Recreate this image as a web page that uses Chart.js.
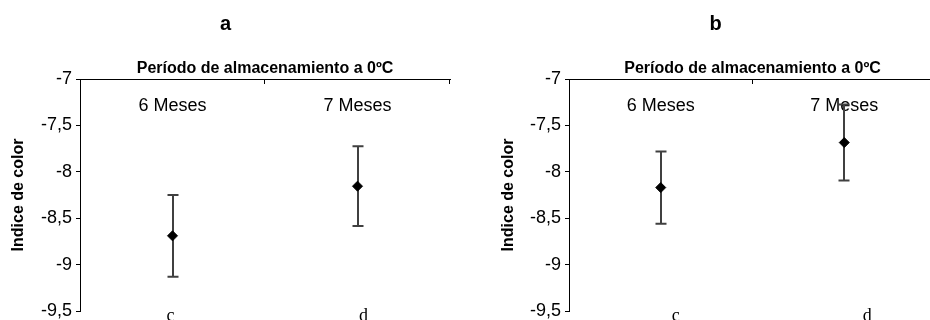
<!DOCTYPE html>
<html>
<head>
<meta charset="utf-8">
<script src="https://cdn.jsdelivr.net/npm/chart.js@4"></script>
<style>
  html, body { margin: 0; padding: 0; background: #fff; overflow: hidden; }
  .panel { position: absolute; top: 0; height: 320px; }
  #panelA { left: 0; width: 456px; }
  #panelB { left: 490px; width: 452px; }
</style>
</head>
<body>
<div class="panel" id="panelA"><canvas id="chartA"></canvas></div>
<div class="panel" id="panelB"><canvas id="chartB"></canvas></div>
<script>
// data
const categories = ["6 Meses", "7 Meses"];
const groupLetters = ["c", "d"];
const yTicks = [-7, -7.5, -8, -8.5, -9, -9.5];
const meansA = [-8.69, -8.155];
const errorsA = [0.44, 0.43];
const meansB = [-8.17, -7.685];
const errorsB = [0.39, 0.41];

Chart.defaults.font.family = "'Liberation Sans', Arial, sans-serif";
Chart.defaults.color = '#000';

// error bars, inner top-axis ticks, category labels and group letters
const panelExtras = {
    id: 'panelExtras',
    beforeDatasetsDraw(chart, args, opts) {
        const ctx = chart.ctx;
        const area = chart.chartArea;
        const x = chart.scales.x;
        const y = chart.scales.y;
        const means = chart.data.datasets[0].data;

        ctx.save();
        ctx.font = "18px 'Liberation Sans', Arial, sans-serif";
        ctx.fillStyle = '#000';
        ctx.textAlign = 'center';
        ctx.textBaseline = 'middle';
        categories.forEach((c, i) => {
            ctx.fillText(c, x.getPixelForValue(i), area.top + 27);
        });

        ctx.strokeStyle = '#000';
        ctx.lineWidth = 1;
        for (let i = 1; i <= categories.length; i++) {
            let bx = i < categories.length
                ? (x.getPixelForValue(i - 1) + x.getPixelForValue(i)) / 2
                : area.right;
            bx = Math.round(bx) - 0.5;
            ctx.beginPath();
            ctx.moveTo(bx, area.top);
            ctx.lineTo(bx, area.top + 5);
            ctx.stroke();
        }

        ctx.strokeStyle = '#404040';
        ctx.lineWidth = 2;
        means.forEach((m, i) => {
            const px = Math.round(x.getPixelForValue(i));
            const top = y.getPixelForValue(m + opts.errors[i]);
            const bot = y.getPixelForValue(m - opts.errors[i]);
            ctx.beginPath();
            ctx.moveTo(px, top); ctx.lineTo(px, bot);
            ctx.moveTo(px - 5.5, top); ctx.lineTo(px + 5.5, top);
            ctx.moveTo(px - 5.5, bot); ctx.lineTo(px + 5.5, bot);
            ctx.stroke();
        });

        ctx.font = "18px 'Liberation Serif', 'Times New Roman', serif";
        ctx.fillStyle = '#000';
        ctx.textBaseline = 'alphabetic';
        groupLetters.forEach((l, i) => {
            ctx.fillText(l, x.getPixelForValue(i) + opts.letterShift + i * 8, area.bottom + 10);
        });
        ctx.restore();
    }
};

function makeChart(id, label, means, errors, axisWidth, rightPad, letterShift) {
    const ctx = document.getElementById(id).getContext('2d');
    return new Chart(ctx, {
        type: 'line',
        data: {
            labels: categories,
            datasets: [{
                data: means,
                showLine: false,
                pointStyle: 'rectRot',
                pointRadius: 5,
                pointHoverRadius: 5,
                backgroundColor: '#000',
                borderColor: '#000'
            }]
        },
        plugins: [panelExtras],
        options: {
            responsive: true,
            maintainAspectRatio: false,
            animation: false,
            events: [],
            layout: { padding: { top: 0, left: 0, right: rightPad, bottom: 9 } },
            plugins: {
                legend: { display: false },
                tooltip: { enabled: false },
                title: {
                    display: true,
                    text: label,
                    font: { size: 20, weight: 'bold' },
                    padding: { top: 12, bottom: 14 }
                },
                panelExtras: { errors: errors, letterShift: letterShift }
            },
            scales: {
                x: {
                    type: 'category',
                    position: 'top',
                    offset: true,
                    grid: { display: false },
                    border: { display: true, color: '#000', width: 1 },
                    ticks: { display: false },
                    title: {
                        display: true,
                        text: 'Período de almacenamiento a 0ºC',
                        font: { size: 16, weight: 'bold' },
                        padding: { top: 9, bottom: 0 }
                    },
                    afterFit: s => { s.height = 29; }
                },
                y: {
                    min: Math.min(...yTicks),
                    max: Math.max(...yTicks),
                    ticks: {
                        stepSize: 0.5,
                        padding: 4,
                        font: { size: 18 },
                        callback: v => String(v).replace('.', ',')
                    },
                    grid: { drawOnChartArea: false, drawTicks: true, tickLength: 4, color: '#000' },
                    border: { display: true, color: '#000', width: 1 },
                    title: {
                        display: true,
                        text: 'Indice de color',
                        font: { size: 16, weight: 'bold' },
                        padding: { top: 9, bottom: 0 }
                    },
                    afterFit: s => {
                        s.width = axisWidth;
                        s.paddingTop = 0;
                        s.paddingBottom = 0;
                    }
                }
            }
        }
    });
}

document.addEventListener("DOMContentLoaded", function () {
    makeChart('chartA', 'a', meansA, errorsA, 80, 5, -2);
    makeChart('chartB', 'b', meansB, errorsB, 79, 1, 15);
});
</script>
</body>
</html>
